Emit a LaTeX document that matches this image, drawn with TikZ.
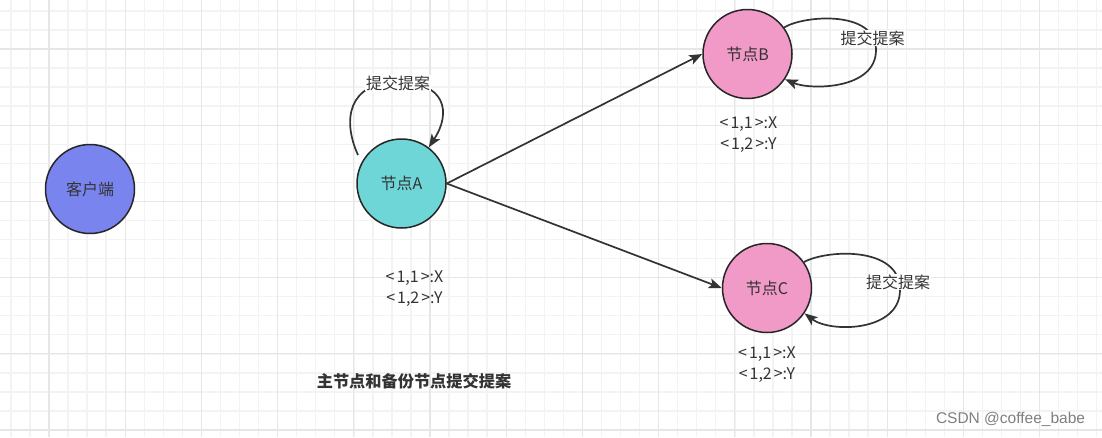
\documentclass[tikz,border=0pt]{standalone}
\usepackage{fontspec}
\setmainfont{Noto Sans CJK SC}
\newfontfamily\wmfont{Liberation Sans}
\usetikzlibrary{arrows.meta}
\definecolor{gridminor}{HTML}{F3F3F3}
\definecolor{gridmajor}{HTML}{E6E6E6}
\definecolor{cblue}{HTML}{7A84EE}
\definecolor{cteal}{HTML}{6FD6D8}
\definecolor{cpink}{HTML}{F19AC7}
\definecolor{edgec}{HTML}{333333}
\definecolor{txt}{HTML}{333333}
\newcommand{\kvtext}{<\kern2pt1,1\kern2pt>:X\\<\kern2pt1,2\kern2pt>:Y}
\tikzset{
  state/.style={circle,draw=black!85,line width=1.5pt,minimum size=89pt,inner sep=0pt,
    text=txt,font=\fontsize{16}{19}\selectfont},
  edge/.style={draw=edgec,line width=1.7pt,-{Stealth[length=13pt,width=10pt,inset=3pt]}},
  lbl/.style={fill=white,inner sep=1pt,text=txt,font=\fontsize{16}{19}\selectfont},
  kv/.style={align=center,text=txt,inner sep=0pt,font=\fontsize{16}{21}\selectfont},
}
\begin{document}
\begin{tikzpicture}[x=1pt,y=-1pt]
\useasboundingbox (0,0) rectangle (1102,437);
\fill[white] (0,0) rectangle (1102,437);
\foreach \i in {-3,...,57}{
  \draw[gridminor,line width=1.4pt] ({49+19.05*\i},0) -- ({49+19.05*\i},437);
  \draw[gridminor,line width=1.4pt] (0,{49+19.05*\i}) -- (1102,{49+19.05*\i});
}
\foreach \i in {-1,...,14}{
  \draw[gridmajor,line width=1.3pt] ({49+76.2*\i},0) -- ({49+76.2*\i},437);
  \draw[gridmajor,line width=1.3pt] (0,{49+76.2*\i}) -- (1102,{49+76.2*\i});
}
\node[state,fill=cblue] (K) at (90,189) {客户端};
\node[state,fill=cteal] (A) at (401.5,183.5) {节点A};
\node[state,fill=cpink] (B) at (747.5,54) {节点B};
\node[state,fill=cpink] (C) at (767,288) {节点C};
\draw[edge] (A.east) -- (B.west);
\draw[edge] (A.east) -- (C.west);
\coordinate (la) at (358,155);
\draw[edge] (la) .. controls (342,120) and (348,82) .. (398,82) .. controls (445,82) and (452,112) .. (A.53);
\draw[edge] (B.36) .. controls (805,15) and (876,10) .. (876,50) .. controls (876,90) and (810,90) .. (B.-34);
\draw[edge] (C.35) .. controls (825,250) and (900,245) .. (900,290) .. controls (900,332) and (830,333) .. (C.-34);
\node[lbl] (LA) at (398,83) {提交提案};
\node[lbl] (LB) at (872.5,38) {提交提案};
\node[lbl] (LC) at (898,282) {提交提案};
\node[kv] (KA) at (414.5,288.5) {\kvtext};
\node[kv] (KB) at (748.5,135) {\kvtext};
\node[kv] (KC) at (767,364.5) {\kvtext};
\node[text=txt,font=\bfseries\fontsize{16.2}{19}\selectfont] (T) at (414,381) {主节点和备份节点提交提案};
\node[text=black!50,font=\wmfont\fontsize{15.5}{18}\selectfont] (W) at (1010.5,419) {CSDN @coffee\_babe};
\end{tikzpicture}
\end{document}
